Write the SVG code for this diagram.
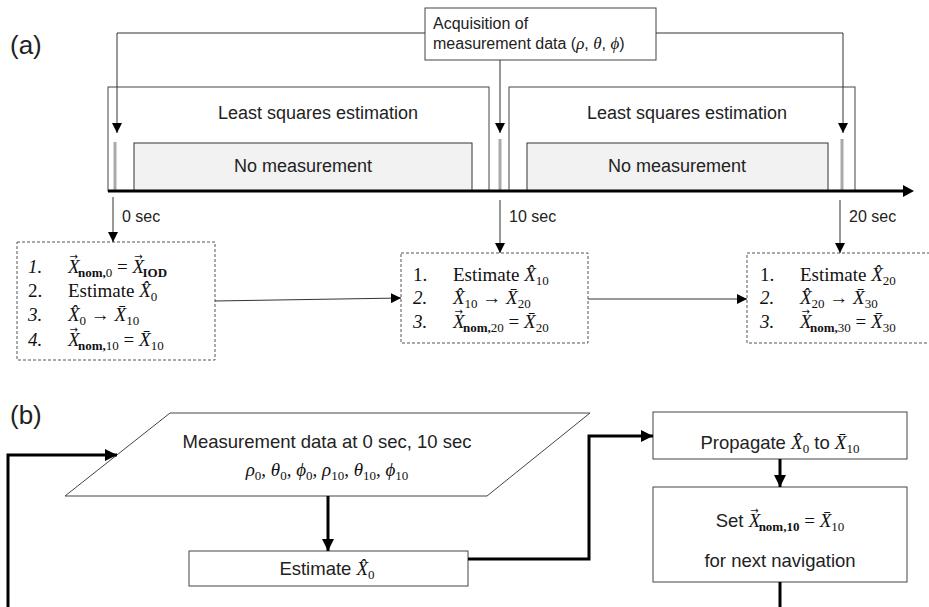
<svg xmlns="http://www.w3.org/2000/svg" width="929" height="607" viewBox="0 0 929 607">
<defs>
<style>
.sans{font-family:"Liberation Sans",Arial,sans-serif;fill:#222}
.serif{font-family:"Liberation Serif","DejaVu Serif",serif;fill:#111}
.it{font-style:italic}
.b{font-weight:bold}
.thin{fill:none;stroke:#333;stroke-width:1}
.box{fill:#fff;stroke:#444;stroke-width:1}
.gray{fill:#f2f2f2;stroke:#333;stroke-width:1}
.dash{fill:#fff;stroke:#555;stroke-width:1;stroke-dasharray:3,2}
.bar{stroke:#aaa;stroke-width:3}
.thick{fill:none;stroke:#000;stroke-width:3}
.sub{font-size:13px}
.acc{font-size:10px;font-style:normal;font-family:"DejaVu Sans",sans-serif}
.m{font-size:19px}
</style>
<marker id="ah" viewBox="0 0 10 10" refX="10" refY="5" markerWidth="10" markerHeight="10" markerUnits="userSpaceOnUse" orient="auto"><path d="M0,0 L10,5 L0,10 z" fill="#000"/></marker>
<marker id="ahb" viewBox="0 0 10 10" refX="10" refY="5" markerWidth="4" markerHeight="4" orient="auto"><path d="M0,0 L10,5 L0,10 z" fill="#000"/></marker>
</defs>
<rect width="929" height="607" fill="#fff"/>

<text class="sans" x="10" y="54" font-size="26">(a)</text>
<text class="sans" x="10" y="424" font-size="26">(b)</text>

<g id="lse1"><rect class="box" x="108" y="87" width="381" height="104"/><text class="sans" x="318" y="119" font-size="18" text-anchor="middle">Least squares estimation</text></g>
<g id="lse2"><rect class="box" x="509" y="87" width="346" height="104"/><text class="sans" x="687" y="119" font-size="18" text-anchor="middle">Least squares estimation</text></g>
<g id="nomeas1"><rect class="gray" x="134" y="143" width="338" height="48"/><text class="sans" x="303" y="172" font-size="18" text-anchor="middle">No measurement</text></g>
<g id="nomeas2"><rect class="gray" x="527" y="143" width="301" height="48"/><text class="sans" x="677" y="172" font-size="18" text-anchor="middle">No measurement</text></g>
<g id="bars"><line class="bar" x1="115" y1="142" x2="115" y2="190"/><line class="bar" x1="500" y1="139" x2="500" y2="190"/><line class="bar" x1="842" y1="139" x2="842" y2="190"/></g>

<g id="acq"><rect class="box" x="425" y="8" width="231" height="52"/>
<text class="sans" x="433" y="29" font-size="16">Acquisition of</text>
<text class="sans" x="433" y="49" font-size="16">measurement data (<tspan class="serif it" font-size="17">ρ</tspan>, <tspan class="serif it" font-size="17">θ</tspan>, <tspan class="serif it" font-size="17">ϕ</tspan>)</text></g>

<g id="box0"><rect class="dash" x="17" y="242" width="198" height="118"/>
<text class="serif m"><tspan class="it" x="28" y="273">1.</tspan><tspan x="68" class="it">X</tspan><tspan class="acc" dx="-10" dy="-13">→</tspan><tspan class="sub b" dx="0" dy="17">nom,</tspan><tspan class="sub">0</tspan><tspan dy="-4"> =  </tspan><tspan class="it">X</tspan><tspan class="acc" dx="-10" dy="-13">→</tspan><tspan class="sub b" dy="17">IOD</tspan></text>
<text class="serif m"><tspan x="28" y="297">2.</tspan><tspan x="68">Estimate </tspan><tspan class="it">X̂</tspan><tspan class="sub" dy="4">0</tspan></text>
<text class="serif m"><tspan class="it" x="28" y="321">3.</tspan><tspan x="68" class="it">X̂</tspan><tspan class="sub" dy="4">0</tspan><tspan dy="-4"> → </tspan><tspan class="it">X̄</tspan><tspan class="sub" dy="4">10</tspan></text>
<text class="serif m"><tspan class="it" x="28" y="346">4.</tspan><tspan x="68" class="it">X</tspan><tspan class="acc" dx="-10" dy="-13">→</tspan><tspan class="sub b" dy="17">nom,</tspan><tspan class="sub">10</tspan><tspan dy="-4"> = </tspan><tspan class="it">X̄</tspan><tspan class="sub" dy="4">10</tspan></text></g>

<g id="box10"><rect class="dash" x="401" y="253" width="187" height="90"/>
<text class="serif m"><tspan x="413" y="281">1.</tspan><tspan x="453">Estimate </tspan><tspan class="it">X̂</tspan><tspan class="sub" dy="4">10</tspan></text>
<text class="serif m"><tspan class="it" x="413" y="304">2.</tspan><tspan x="453" class="it">X̂</tspan><tspan class="sub" dy="4">10</tspan><tspan dy="-4"> → </tspan><tspan class="it">X̄</tspan><tspan class="sub" dy="4">20</tspan></text>
<text class="serif m"><tspan class="it" x="413" y="328">3.</tspan><tspan x="453" class="it">X</tspan><tspan class="acc" dx="-10" dy="-13">→</tspan><tspan class="sub b" dy="17">nom,</tspan><tspan class="sub">20</tspan><tspan dy="-4"> = </tspan><tspan class="it">X̄</tspan><tspan class="sub" dy="4">20</tspan></text></g>

<g id="box20"><rect class="dash" x="747" y="253" width="190" height="90"/>
<text class="serif m"><tspan x="760" y="281">1.</tspan><tspan x="800">Estimate </tspan><tspan class="it">X̂</tspan><tspan class="sub" dy="4">20</tspan></text>
<text class="serif m"><tspan class="it" x="760" y="304">2.</tspan><tspan x="800" class="it">X̂</tspan><tspan class="sub" dy="4">20</tspan><tspan dy="-4"> → </tspan><tspan class="it">X̄</tspan><tspan class="sub" dy="4">30</tspan></text>
<text class="serif m"><tspan class="it" x="760" y="328">3.</tspan><tspan x="800" class="it">X</tspan><tspan class="acc" dx="-10" dy="-13">→</tspan><tspan class="sub b" dy="17">nom,</tspan><tspan class="sub">30</tspan><tspan dy="-4"> = </tspan><tspan class="it">X̄</tspan><tspan class="sub" dy="4">30</tspan></text></g>

<g id="labels"><text class="sans" x="122" y="222" font-size="16">0 sec</text><text class="sans" x="509" y="222" font-size="16">10 sec</text><text class="sans" x="849" y="222" font-size="16">20 sec</text></g>

<g id="meas"><polygon class="box" points="170,413 590,413 487,496 65,496"/>
<text class="sans" x="327" y="448" font-size="18.5" text-anchor="middle">Measurement data at 0 sec, 10 sec</text>
<text class="serif" x="327" y="476" font-size="19" text-anchor="middle"><tspan class="it">ρ</tspan><tspan class="sub" dy="4">0</tspan><tspan dy="-4">, </tspan><tspan class="it">θ</tspan><tspan class="sub" dy="4">0</tspan><tspan dy="-4">, </tspan><tspan class="it">ϕ</tspan><tspan class="sub" dy="4">0</tspan><tspan dy="-4">, </tspan><tspan class="it">ρ</tspan><tspan class="sub" dy="4">10</tspan><tspan dy="-4">, </tspan><tspan class="it">θ</tspan><tspan class="sub" dy="4">10</tspan><tspan dy="-4">, </tspan><tspan class="it">ϕ</tspan><tspan class="sub" dy="4">10</tspan></text></g>
<g id="est"><rect class="box" x="189" y="551" width="279" height="35"/>
<text class="sans" x="327" y="575" font-size="18.5" text-anchor="middle">Estimate  <tspan class="serif it" font-size="19">X̂</tspan><tspan class="serif sub" dy="4">0</tspan></text></g>
<g id="prop"><rect class="box" x="653" y="412" width="254" height="47"/>
<text class="sans" x="780" y="449" font-size="18.5" text-anchor="middle">Propagate <tspan class="serif it" font-size="19">X̂</tspan><tspan class="serif sub" dy="4">0</tspan><tspan dy="-4"> to </tspan><tspan class="serif it" font-size="19">X̄</tspan><tspan class="serif sub" dy="4">10</tspan></text></g>
<g id="set"><rect class="box" x="653" y="487" width="254" height="95"/>
<text class="sans" x="780" y="527" font-size="18.5" text-anchor="middle">Set <tspan class="serif it" font-size="19">X</tspan><tspan class="acc" dx="-10" dy="-13">→</tspan><tspan class="serif sub b" dy="17">nom,10</tspan><tspan class="serif" font-size="19" dy="-4"> = </tspan><tspan class="serif it" font-size="19">X̄</tspan><tspan class="serif sub" dy="4">10</tspan></text>
<text class="sans" x="780" y="567" font-size="18.5" text-anchor="middle">for next navigation</text></g>

<g id="connectors">
<line x1="108" y1="191" x2="904" y2="191" stroke="#000" stroke-width="3"/>
<path d="M903,185 L914,191 L903,197 z" fill="#000"/>
<path class="thin" d="M425,33 H117 V133" marker-end="url(#ah)"/>
<path class="thin" d="M656,33 H843 V133" marker-end="url(#ah)"/>
<path class="thin" d="M500,60 V133" marker-end="url(#ah)"/>
<path class="thin" d="M113,197 V242" marker-end="url(#ah)"/>
<path class="thin" d="M500,200 V253" marker-end="url(#ah)"/>
<path class="thin" d="M840,200 V253" marker-end="url(#ah)"/>
<path class="thin" d="M215,301 L401,298" marker-end="url(#ah)"/>
<path class="thin" d="M588,299 L747,299" marker-end="url(#ah)"/>
<path class="thick" d="M328,496 V551" marker-end="url(#ahb)"/>
<path class="thick" d="M468,559 H589 V436 H653" marker-end="url(#ahb)"/>
<path class="thick" d="M780,459 V487" marker-end="url(#ahb)"/>
<path class="thick" d="M780,582 V607"/>
<path class="thick" d="M8,607 V455 H117" marker-end="url(#ahb)"/>
</g>
</svg>
